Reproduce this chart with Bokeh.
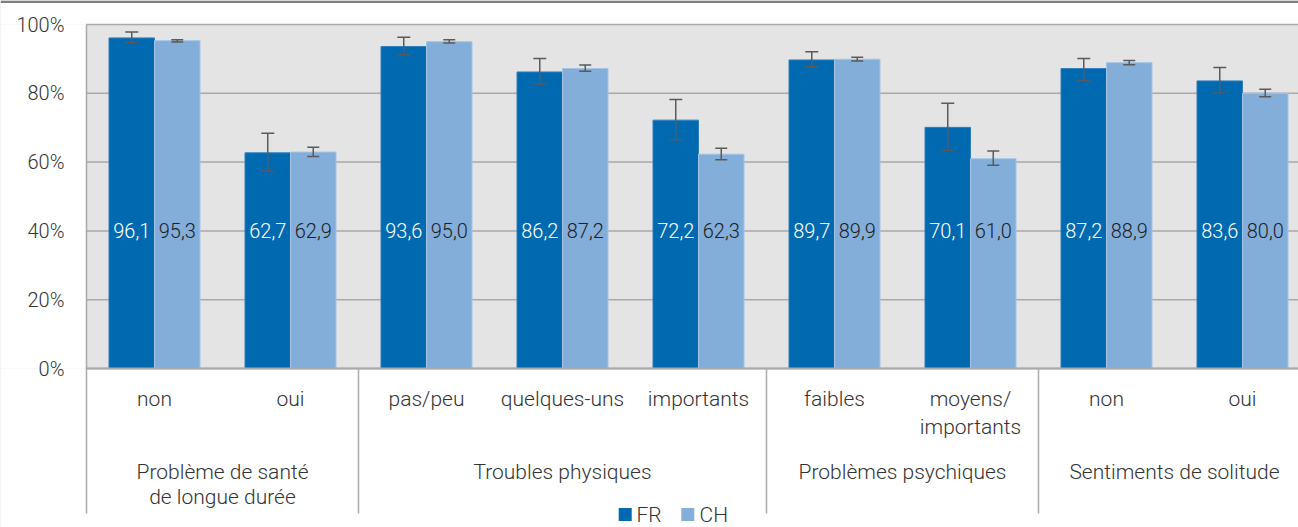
from bokeh.plotting import figure
from bokeh.models import (Range1d, ColumnDataSource, Whisker, TeeHead)
from bokeh.core.properties import value
from bokeh.embed import file_html
from bokeh.resources import INLINE

# ---- data ----
categories = ["non", "oui", "pas/peu", "quelques-uns", "importants",
              "faibles", "moyens/\nimportants", "non", "oui"]
groups = ["Problème de santé\nde longue durée", "Troubles physiques",
          "Problèmes psychiques", "Sentiments de solitude"]
group_sizes = [2, 3, 2, 2]
series = ["FR", "CH"]
fr = [96.1, 62.7, 93.6, 86.2, 72.2, 89.7, 70.1, 87.2, 83.6]
ch = [95.3, 62.9, 95.0, 87.2, 62.3, 89.9, 61.0, 88.9, 80.0]
fr_low = [94.8, 57.4, 91.2, 82.7, 66.5, 87.7, 63.4, 83.7, 80.1]
fr_high = [97.8, 68.4, 96.3, 90.1, 78.2, 92.1, 77.1, 90.1, 87.5]
ch_low = [94.9, 61.6, 94.6, 86.4, 60.7, 89.4, 59.1, 88.3, 79.0]
ch_high = [95.6, 64.3, 95.6, 88.2, 64.0, 90.5, 63.2, 89.5, 81.2]
y_ticks = [0, 20, 40, 60, 80, 100]
y_tick_labels = ["0%", "20%", "40%", "60%", "80%", "100%"]

# ---- style / layout ----
FONT = "'Roboto Light', Roboto"
FS_TXT = "21px"
FS_NUM = "20px"
C_FR = "#0069b0"
C_CH = "#83aed9"
GRID = "#a9a9a9"
BG = "#e4e4e4"
TXT = "#333333"
PXX = 136.0        # px per category
PXY = 3.44         # px per percent
W, H = 1298, 527
PLOT_LEFT = 86     # px where the plot area begins
TOP100 = 24
x0 = -PLOT_LEFT / PXX
x1 = x0 + W / PXX
y_top = 100 + TOP100 / PXY
y_bot = -(H - TOP100 - 100 * PXY) / PXY

p = figure(width=W, height=H, output_backend="svg", toolbar_location=None,
           x_range=Range1d(x0, x1), y_range=Range1d(y_bot, y_top),
           min_border_left=0, min_border_right=0, min_border_top=0,
           min_border_bottom=0, background_fill_color=BG,
           border_fill_color="white", outline_line_color=None)
p.axis.visible = False
p.grid.visible = False

# white areas outside the 0..100 plot area
p.quad(left=x0, right=x1, bottom=100, top=y_top, fill_color="white", line_color=None)
p.quad(left=x0, right=x1, bottom=y_bot, top=0, fill_color="white", line_color=None)
p.quad(left=x0, right=0, bottom=0, top=100, fill_color="white", line_color=None)
# top dark rule
p.quad(left=x0, right=x1, bottom=y_top - 2.5 / PXY, top=y_top, fill_color="#7f7f7f", line_color=None)

# gridlines
p.segment(x0=[0] * len(y_ticks), x1=[x1] * len(y_ticks), y0=y_ticks, y1=y_ticks,
          line_color=GRID, line_width=1.5)

# y tick labels
p.text(x=[-22 / PXX] * len(y_ticks), y=y_ticks, text=y_tick_labels,
       text_align="right", text_baseline="middle", text_font=value(FONT),
       text_font_size=FS_NUM, text_color=TXT)

n = len(categories)
centers = [i + 0.5 for i in range(n)]
bw = 45.5 / PXX
x_fr = [c - bw / 2 for c in centers]
x_ch = [c + bw / 2 for c in centers]

p.vbar(x=x_fr, top=fr, width=bw, bottom=0, fill_color=C_FR, line_color="#2f7fbf", line_width=1)
p.vbar(x=x_ch, top=ch, width=bw, bottom=0, fill_color=C_CH, line_color="#a3c4e6", line_width=1)

# axis line at 0
p.segment(x0=[0], x1=[x1], y0=[0], y1=[0], line_color=GRID, line_width=2)

# separators
sep_bottom = -145 / PXY
bounds = [0]
for s in group_sizes:
    bounds.append(bounds[-1] + s)
sep_x = bounds[:-1]
sep_top = [100] + [0] * (len(sep_x) - 1)
p.segment(x0=sep_x, x1=sep_x, y0=sep_top, y1=[sep_bottom] * len(sep_x),
          line_color=GRID, line_width=1.5)

# error bars
for xs, lo, hi, cap in ((x_fr, fr_low, fr_high, 13), (x_ch, ch_low, ch_high, 12)):
    src = ColumnDataSource(dict(base=xs, lower=lo, upper=hi))
    w = Whisker(base="base", lower="lower", upper="upper", source=src,
                dimension="height", line_color="#5a5a5a", line_width=1.5,
                level="overlay",
                upper_head=TeeHead(size=cap, line_color="#5a5a5a", line_width=1.5),
                lower_head=TeeHead(size=cap, line_color="#5a5a5a", line_width=1.5))
    p.add_layout(w)

# value labels
def fmt(v):
    return f"{v:.1f}".replace(".", ",")

p.text(x=x_fr, y=[40] * n, text=[fmt(v) for v in fr], text_align="center",
       text_baseline="middle", text_font=value(FONT), text_font_size=FS_NUM,
       text_color="white")
p.text(x=x_ch, y=[40] * n, text=[fmt(v) for v in ch], text_align="center",
       text_baseline="middle", text_font=value(FONT), text_font_size=FS_NUM,
       text_color="#1e1e1e")

# category labels
p.text(x=centers, y=[-18 / PXY] * n, text=categories, text_align="center",
       text_baseline="top", text_font=value(FONT), text_font_size=FS_TXT,
       text_color=TXT, text_line_height=1.18)

# group labels
g_centers = [(bounds[i] + bounds[i + 1]) / 2 for i in range(len(groups))]
p.text(x=g_centers, y=[-91 / PXY] * len(groups), text=groups, text_align="center",
       text_baseline="top", text_font=value(FONT), text_font_size=FS_TXT,
       text_color=TXT, text_line_height=1.06)

# legend
ly = -146 / PXY
leg_sq_x = [(624.7 - PLOT_LEFT) / PXX, (687.3 - PLOT_LEFT) / PXX]
leg_tx_x = [(636 - PLOT_LEFT) / PXX, (699 - PLOT_LEFT) / PXX]
p.scatter(x=leg_sq_x, y=[ly, ly], marker="square", size=13,
          fill_color=[C_FR, C_CH], line_color=None)
p.text(x=leg_tx_x, y=[ly, ly], text=series, text_align="left",
       text_baseline="middle", text_font=value(FONT), text_font_size=FS_TXT,
       text_color=TXT)

open("out.html", "w").write(file_html(p, INLINE))
